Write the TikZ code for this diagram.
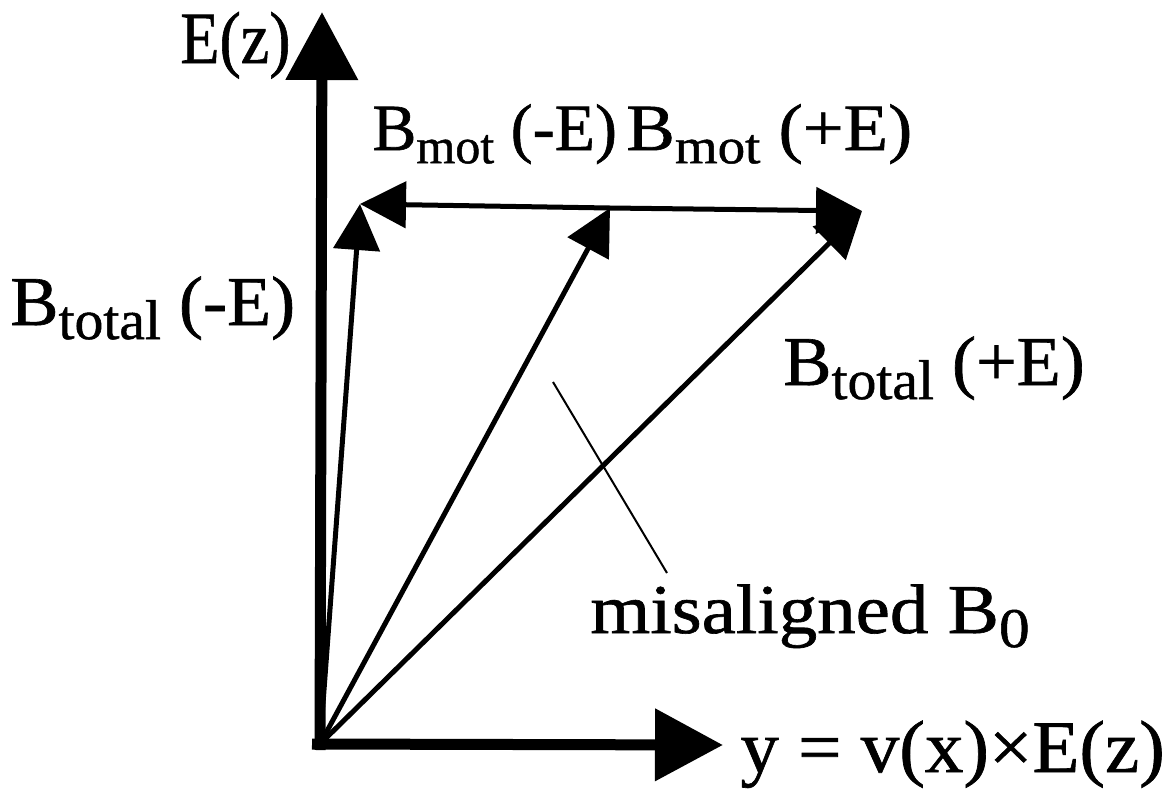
\documentclass[tikz,border=0pt]{standalone}
\usepackage{fontspec}
\setmainfont{Liberation Serif}[FakeBold=0.9]
\usetikzlibrary{arrows.meta}
\newcommand\lsub[2][28]{\raisebox{-0.2em}{\fontsize{#1}{#1}\selectfont #2}}
\tikzset{
  lab/.style={anchor=base west, inner sep=0pt, font=\fontsize{35}{35}\selectfont},
  axis/.style={line width=5.5pt, -{Triangle[length=34pt,width=35pt]}},
  vec/.style={line width=2.5pt, -{Triangle[length=23pt,width=23pt]}},
  pointer/.style={line width=1pt}
}
\begin{document}
\begin{tikzpicture}[x=0.5pt,y=-0.5pt]
\useasboundingbox (0,0) rectangle (1168,788);
% coordinates
\coordinate (O) at (320,744);
\coordinate (Oh) at (312,744);
\coordinate (Ov) at (320,750);
\coordinate (Ztip) at (322,12);
\coordinate (Ytip) at (723,745);
\coordinate (L) at (360,204);
\coordinate (P) at (610,208);
\coordinate (R) at (862,211);
\coordinate (ptA) at (553,382);
\coordinate (ptB) at (667,573);
% axes
\draw[axis] (Ov) -- (Ztip);
\draw[axis] (Oh) -- (Ytip);
% vectors
\draw[vec] (O) -- (L);
\draw[vec] (O) -- (P);
\draw[vec] (O) -- (R);
\draw[vec] (P) -- (L);
\draw[vec] (P) -- (R);
\draw[pointer] (ptA) -- (ptB);
% labels
\node[lab, font=\fontsize{32}{32}\selectfont, yscale=1.15, transform shape] (ez) at (180,63) {E(z)};
\node[lab, font=\fontsize{33}{33}\selectfont] (bmotm) at (372,150) {B\lsub[25]{mot} (-E)};
\node[lab, font=\fontsize{33}{33}\selectfont, xscale=1.1, transform shape] (bmotp) at (626,150) {B\lsub[25]{mot} (+E)};
\node[lab, xscale=1.03, transform shape] (btotm) at (10,325) {B\lsub{total} (-E)};
\node[lab, xscale=1.03, transform shape] (btotp) at (783,385) {B\lsub{total} (+E)};
\node[lab, xscale=1.1, transform shape] (mis) at (590,633) {misaligned B\lsub{0}};
\node[lab, font=\fontsize{37}{37}\selectfont, xscale=1.04, transform shape] (ylab) at (740,772) {y = v(x)×E(z)};
\end{tikzpicture}
\end{document}
